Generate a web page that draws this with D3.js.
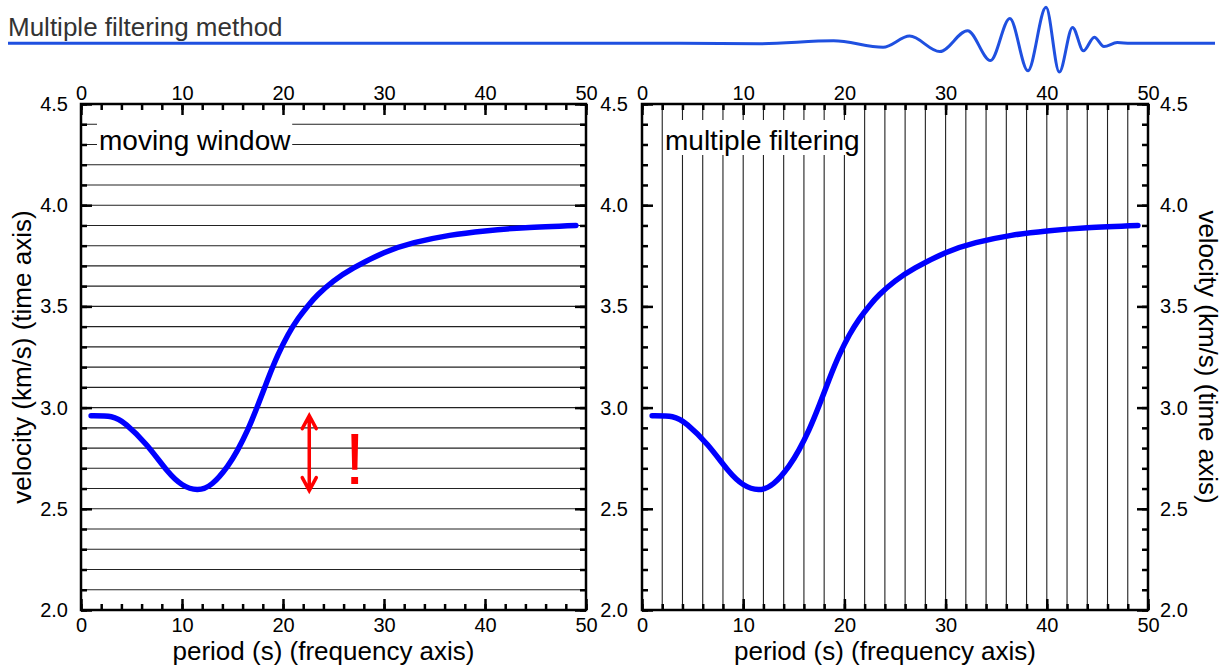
<!DOCTYPE html>
<html lang="en">
<head>
<meta charset="UTF-8">
<title>Multiple filtering method</title>
<script src="https://cdn.jsdelivr.net/npm/d3@7"></script>
<style>
    body { margin: 0; background: #fff; }
    #canvas { display: block; font-family: "Liberation Sans", Arial, sans-serif; }
    .tick text { font-size: 20px; fill: #000; }
    .tick line { stroke: #000; stroke-width: 2.5; }
    .grid { stroke: #222; stroke-width: 1.1; }
    .frame { fill: none; stroke: #000; stroke-width: 2.5; }
    .curve { fill: none; stroke: #0000ff; stroke-width: 5.5; stroke-linecap: round; }
    .axisTitle { font-size: 26px; fill: #000; }
    .panelLabel { font-size: 28px; fill: #000; }
</style>
</head>
<body>
<svg id="canvas" width="1223" height="670"></svg>
<script>
    // dispersion curve
    const period = [1, 3, 4.5, 6.5, 8.5, 10, 11.5, 13, 14.5, 15.5, 16.5, 17.5, 18.5, 19.5, 20.5, 21.5, 22.5, 23.5, 25, 27, 30, 33, 36.5, 40, 44, 49];
    const velocity = [2.96, 2.955, 2.915, 2.815, 2.69, 2.62, 2.595, 2.625, 2.71, 2.79, 2.89, 3.01, 3.14, 3.26, 3.36, 3.44, 3.505, 3.56, 3.625, 3.69, 3.765, 3.815, 3.851, 3.873, 3.889, 3.9];

    const periodTicks = [0, 10, 20, 30, 40, 50];
    const velocityTicks = [2.0, 2.5, 3.0, 3.5, 4.0, 4.5];
    const panelLabels = ["moving window", "multiple filtering"];
    const xTitle = "period (s) (frequency axis)";
    const yTitle = "velocity (km/s) (time axis)";
    const slideTitle = "Multiple filtering method";

    // red annotation in the left panel
    const arrowPeriod = 22.6;
    const arrowSpan = [2.59, 2.96];
    const alertAt = [27.1, 2.625];

    // header seismogram (arbitrary time, normalised amplitude)
    const waveTime = [0, 55.7, 62.3, 68.4, 72.5, 74.7, 77.2, 79.5, 81.4, 83.0, 84.5, 86.0, 87.1, 88.2, 89.1, 90.0, 90.8, 91.9, 93.0, 100];
    const waveAmp = [0, 0, -0.01, 0.07, -0.11, 0.2, -0.23, 0.35, -0.48, 0.69, -0.76, 1, -0.8, 0.44, -0.21, 0.17, -0.09, 0.02, 0, 0];

    const svg = d3.select("#canvas");
    const plotTop = 104, plotBottom = 610;

    // ---- header
    svg.append("text")
        .attr("x", 8).attr("y", 36)
        .style("font-size", "26px").style("fill", "#333")
        .text(slideTitle);

    let waveX = d3.scaleLinear().domain([0, 100]).range([8, 1215]);
    let waveY = d3.scaleLinear().domain([-1, 1]).range([43.3 + 36, 43.3 - 36]);
    svg.append("path")
        .datum(d3.zip(waveTime, waveAmp))
        .attr("d", d3.line().x(d => waveX(d[0])).y(d => waveY(d[1])).curve(d3.curveMonotoneX))
        .attr("fill", "none")
        .attr("stroke", "#1f50e0")
        .attr("stroke-width", 3);

    // ---- panels
    let panels = [
        {x0: 81, x1: 586, label: panelLabels[0], grid: "h", leftText: true, rightText: false, annotate: true},
        {x0: 642, x1: 1148, label: panelLabels[1], grid: "v", leftText: true, rightText: true, annotate: false}
    ];

    let pts = d3.zip(period, velocity);
    let fmtY = d3.format(".1f");

    panels.forEach(function (p) {
        let x = d3.scaleLinear().domain([0, 50]).range([p.x0, p.x1]);
        let y = d3.scaleLinear().domain([2, 4.5]).range([plotBottom, plotTop]);
        let g = svg.append("g");

        // grid lines on the minor ticks
        if (p.grid === "h") {
            g.selectAll(".grid")
                .data(y.ticks(25).filter(v => v > 2.001 && v < 4.499))
                .enter().append("line")
                .attr("class", "grid")
                .attr("x1", p.x0).attr("x2", p.x1)
                .attr("y1", d => y(d)).attr("y2", d => y(d));
        } else {
            g.selectAll(".grid")
                .data(x.ticks(25).filter(v => v > 0 && v < 50))
                .enter().append("line")
                .attr("class", "grid")
                .attr("y1", plotTop).attr("y2", plotBottom)
                .attr("x1", d => x(d)).attr("x2", d => x(d));
        }

        // label with white box
        let lab = g.append("text")
            .attr("class", "panelLabel")
            .attr("x", p.x0 + 18 + (p.grid === "v" ? 5 : 0))
            .attr("y", plotTop + 46)
            .text(p.label);
        let bb = lab.node().getBBox();
        g.insert("rect", "text.panelLabel")
            .attr("x", bb.x - 2).attr("y", bb.y - 5)
            .attr("width", bb.width + 3).attr("height", bb.height + 4)
            .attr("fill", "#fff");

        // curve
        g.append("path")
            .datum(pts)
            .attr("class", "curve")
            .attr("d", d3.line().x(d => x(d[0])).y(d => y(d[1])).curve(d3.curveNatural));

        // axes, ticks pointing inwards
        let addAxis = function (axis, transform) {
            let a = g.append("g").attr("transform", transform).call(axis);
            a.select(".domain").remove();
            return a;
        };
        addAxis(d3.axisBottom(x).ticks(25).tickSize(-6).tickFormat(""), `translate(0,${plotBottom})`);
        addAxis(d3.axisBottom(x).tickValues(periodTicks).tickSize(-11).tickPadding(8), `translate(0,${plotBottom})`);
        addAxis(d3.axisTop(x).ticks(25).tickSize(-6).tickFormat(""), `translate(0,${plotTop})`);
        addAxis(d3.axisTop(x).tickValues(periodTicks).tickSize(-11).tickPadding(4), `translate(0,${plotTop})`);

        addAxis(d3.axisLeft(y).ticks(25).tickSize(-6).tickFormat(""), `translate(${p.x0},0)`);
        addAxis(d3.axisLeft(y).tickValues(velocityTicks).tickSize(-11)
            .tickPadding(p.rightText ? 14 : 13).tickFormat(p.leftText ? fmtY : ""), `translate(${p.x0},0)`);
        addAxis(d3.axisRight(y).ticks(25).tickSize(-6).tickFormat(""), `translate(${p.x1},0)`);
        addAxis(d3.axisRight(y).tickValues(velocityTicks).tickSize(-11)
            .tickPadding(12).tickFormat(p.rightText ? fmtY : ""), `translate(${p.x1},0)`);

        g.append("rect")
            .attr("class", "frame")
            .attr("x", p.x0).attr("y", plotTop)
            .attr("width", p.x1 - p.x0).attr("height", plotBottom - plotTop);

        // x title
        g.append("text")
            .attr("class", "axisTitle")
            .attr("x", (p.x0 + p.x1) / 2 - 10)
            .attr("y", 660)
            .attr("text-anchor", "middle")
            .text(xTitle);

        if (p.annotate) {
            let ax = x(arrowPeriod), yTop = y(arrowSpan[1]), yBot = y(arrowSpan[0]);
            let ap = d3.path();
            ap.moveTo(ax, yTop); ap.lineTo(ax, yBot);
            ap.moveTo(ax - 7, yTop + 13); ap.lineTo(ax, yTop); ap.lineTo(ax + 7, yTop + 13);
            ap.moveTo(ax - 7, yBot - 13); ap.lineTo(ax, yBot); ap.lineTo(ax + 7, yBot - 13);
            g.append("path")
                .attr("d", ap.toString())
                .attr("fill", "none")
                .attr("stroke", "#ff0000")
                .attr("stroke-width", 3.5)
                .attr("stroke-linecap", "round");
            g.append("text")
                .attr("x", x(alertAt[0])).attr("y", y(alertAt[1]))
                .attr("text-anchor", "middle")
                .style("font-size", "72px").style("fill", "#ff0000")
                .text("!");
        }
    });

    // y titles
    svg.append("text")
        .attr("class", "axisTitle")
        .attr("transform", "translate(31,357) rotate(-90)")
        .attr("text-anchor", "middle")
        .text(yTitle);
    svg.append("text")
        .attr("class", "axisTitle")
        .attr("transform", "translate(1199,357) rotate(90)")
        .attr("text-anchor", "middle")
        .text(yTitle);
</script>
</body>
</html>
